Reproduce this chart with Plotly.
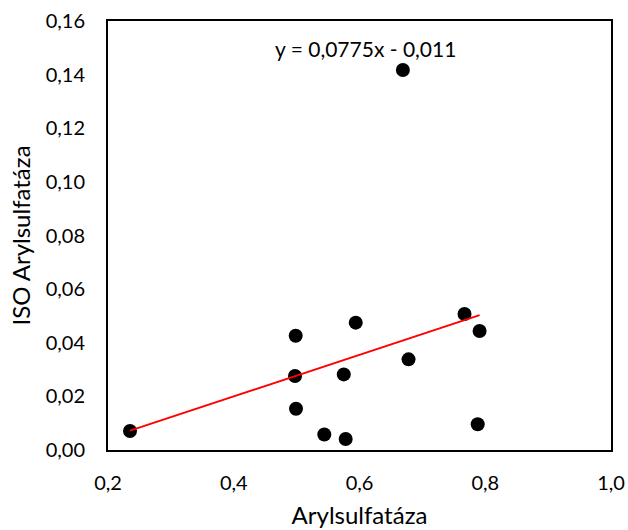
import plotly.graph_objects as go
import numpy as np

# Data
aryl = [0.235, 0.4985, 0.4974, 0.499, 0.544, 0.578, 0.575, 0.594, 0.678, 0.767, 0.791, 0.788, 0.669]
iso_aryl = [0.0071, 0.0426, 0.0276, 0.0154, 0.0058, 0.0041, 0.0282, 0.0475, 0.0338, 0.0507, 0.0444, 0.0096, 0.1417]
slope = 0.0775
intercept = -0.011
equation_text = "y = 0,0775x - 0,011"
x_ticks = [0.2, 0.4, 0.6, 0.8, 1.0]
y_ticks = [0.00, 0.02, 0.04, 0.06, 0.08, 0.10, 0.12, 0.14, 0.16]

FONT = "Lato, 'Open Sans', sans-serif"

xl = np.array([min(aryl), max(aryl)])
yl = slope * xl + intercept

fig = go.Figure()
fig.add_trace(go.Scatter(x=aryl, y=iso_aryl, mode="markers",
                         marker=dict(color="black", size=14), showlegend=False))
fig.add_trace(go.Scatter(x=xl, y=yl, mode="lines",
                         line=dict(color="#ff0000", width=2), showlegend=False))

fig.add_annotation(x=0.61, y=0.1497, text=equation_text, showarrow=False,
                   xref="x", yref="y", font=dict(size=21, color="black", family=FONT))

fig.update_layout(
    width=628, height=530,
    margin=dict(l=108, r=17, t=21, b=80),
    paper_bgcolor="white", plot_bgcolor="white",
    separators=", ",
    font=dict(family=FONT, color="black", size=20),
    xaxis=dict(range=[0.2, 1.0], tickvals=x_ticks, tickformat=".1f",
               showgrid=False, zeroline=False, showline=True, mirror=True,
               linecolor="black", linewidth=2, ticks="", ticklabelstandoff=14,
               tickfont=dict(size=20), automargin=False,
               title=dict(text="Arylsulfatáza", font=dict(size=24), standoff=14)),
    yaxis=dict(range=[0, 0.16], tickvals=y_ticks, tickformat=".2f",
               showgrid=False, zeroline=False, showline=True, mirror=True,
               linecolor="black", linewidth=2, ticks="", ticklabelstandoff=17,
               tickfont=dict(size=20), automargin=False,
               title=dict(text="ISO Arylsulfatáza", font=dict(size=24), standoff=8)),
)

fig.write_html("out.html")
